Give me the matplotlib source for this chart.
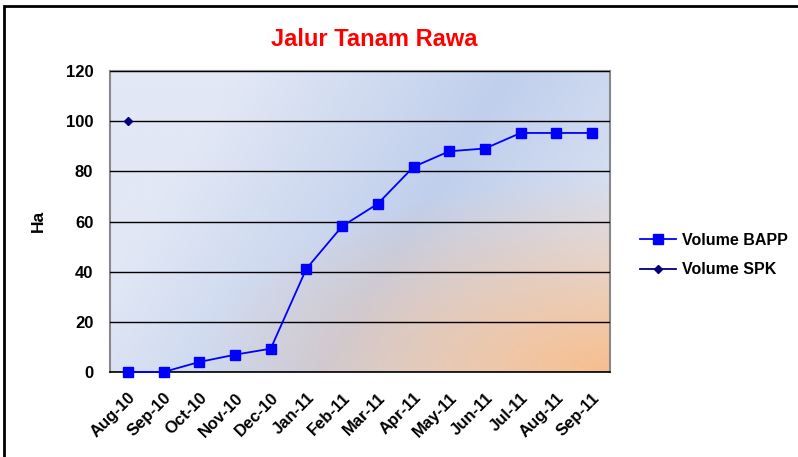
import matplotlib.pyplot as plt
import numpy as np
from matplotlib.patches import Rectangle

plt.rcParams['font.family'] = ['Liberation Sans', 'DejaVu Sans']

months = ['Aug-10', 'Sep-10', 'Oct-10', 'Nov-10', 'Dec-10', 'Jan-11', 'Feb-11',
          'Mar-11', 'Apr-11', 'May-11', 'Jun-11', 'Jul-11', 'Aug-11', 'Sep-11']
bapp = [0, 0, 4, 6.9, 9.3, 41.2, 58.1, 67.1, 81.8, 88, 89.1, 95.3, 95.3, 95.3]
spk = [100] + [np.nan] * 13

fig = plt.figure(figsize=(7.98, 4.57), dpi=100)
ax = fig.add_axes([110/798, 1-372/457, 500/798, 301/457])

# background gradient: light blue -> blue band -> light, orange glow bottom-right
h, w = 200, 300
xx, yy = np.meshgrid(np.linspace(0, 1, w), np.linspace(1, 0, h))
light = np.array([226, 232, 245]) / 255
blue = np.array([192, 207, 236]) / 255
orange = np.array([247, 190, 142]) / 255
t = np.clip(1 - np.abs(xx - (0.42 + 0.38 * yy)) / 0.55, 0, 1)[..., None]
base = light * (1 - t) + blue * t
r = np.sqrt(((xx - 1) / 1.15) ** 2 + (yy / 0.9) ** 2)
wgt = np.clip(1 - r / 0.72, 0, 1)[..., None] ** 1.0
img = base * (1 - wgt) + orange * wgt
ax.imshow(img, extent=[-0.5, 13.5, 0, 120], aspect='auto', zorder=0)

x = np.arange(len(months))
ax.plot(x, bapp, color='#0000ff', lw=1.3, marker='s', ms=7.5, mec='#0000ff',
        label='Volume BAPP', zorder=3, clip_on=False)
ax.plot(x, spk, color='#000080', lw=1.3, marker='D', ms=4.5,
        label='Volume SPK', zorder=3, clip_on=False)

ax.set_xlim(-0.5, 13.5)
ax.set_ylim(0, 120)
ax.set_yticks(range(0, 121, 20))
ax.set_xticks(x)
ax.set_xticklabels(months, rotation=45, ha='right', va='top',
                   rotation_mode='anchor', fontsize=12, fontweight='bold')
for lab in ax.get_yticklabels():
    lab.set_fontweight('bold')
ax.tick_params(axis='y', length=0, pad=12, labelsize=12)
ax.tick_params(axis='x', length=0, pad=13)
ax.grid(axis='y', color='black', lw=1)
ax.set_axisbelow(False)
for s in ['top', 'right', 'left']:
    ax.spines[s].set_color('#888888')
    ax.spines[s].set_linewidth(1.5)
ax.spines['bottom'].set_color('black')
ax.spines['bottom'].set_linewidth(1.2)

fig.text(38/798, 1-221/457, 'Ha', rotation=90, fontsize=12.5, fontweight='bold',
         ha='center', va='center')
fig.text(374/798, 1-40/457, 'Jalur Tanam Rawa', color='red', fontsize=17,
         fontweight='bold', ha='center', va='center')

fig.legend(loc='center left', bbox_to_anchor=(626/798, 1-255/457), frameon=False,
           prop={'weight': 'bold', 'size': 11.5}, handlelength=2.2,
           handletextpad=0.4, labelspacing=0.9)

fig.patches.append(Rectangle((4/798, -0.1), 1.2, 1 - 6/457 + 0.1, transform=fig.transFigure,
                             fill=False, ec='black', lw=2))

fig.savefig('out.png', dpi=100)
